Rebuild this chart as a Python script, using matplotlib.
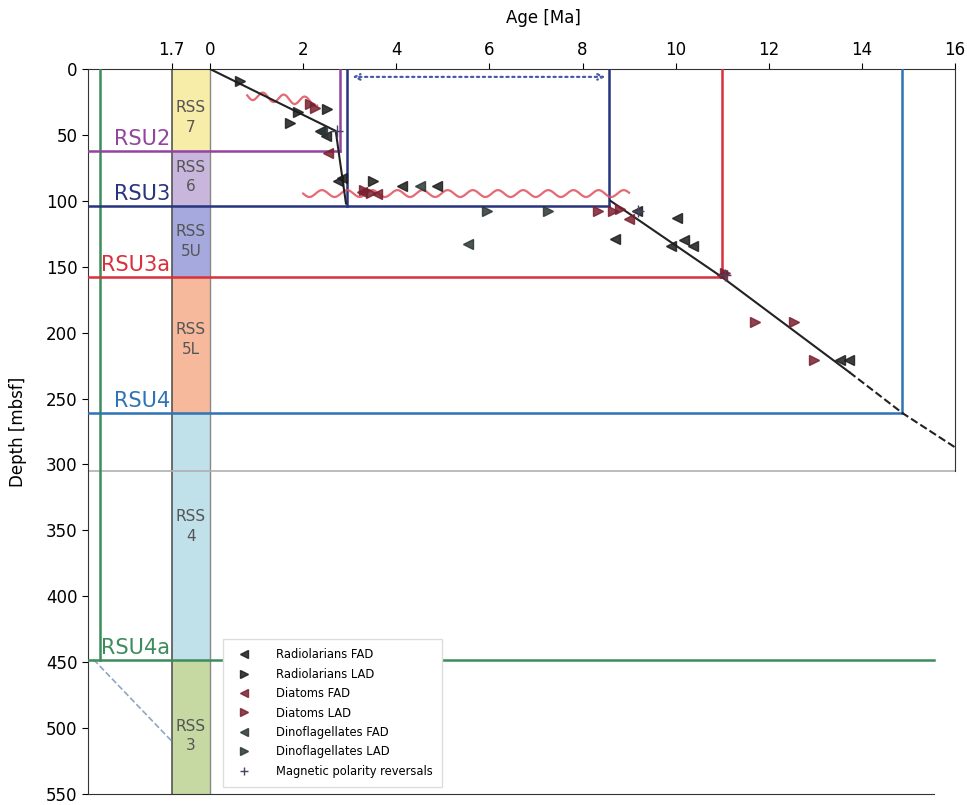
import numpy as np
import matplotlib.pyplot as plt

# Seismic surfaces (RSU): depth [mbsf] and age [Ma] of the older bound
rsu_names = ['RSU2', 'RSU3', 'RSU3a', 'RSU4', 'RSU4a']
rsu_depth = [62, 104, 158, 261, 448]
rsu_age = [2.79, 8.57, 11.0, 14.87, 15.55]
rsu_colors = ['#93449f', '#27347e', '#d8303c', '#2f73b5', '#3c8c5c']
rsu3_young_age = 2.95

# Seismic units (RSS)
rss_names = ['RSS\n7', 'RSS\n6', 'RSS\n5U', 'RSS\n5L', 'RSS\n4', 'RSS\n3']
rss_top = [0, 62, 104, 158, 261, 448]
rss_bot = [62, 104, 158, 261, 448, 550]
rss_label_depth = [37, 82, 131, 205, 347, 506]
rss_colors = ['#f7eca8', '#c8b6dc', '#a5a9de', '#f6b99b', '#c0e0ea', '#c6d9a2']

# Biostratigraphic datums
rad_fad_age = [2.36, 2.50, 2.83, 2.75, 4.12, 4.87, 8.70, 9.16, 9.91, 10.04, 10.19, 10.37, 13.52, 13.73]
rad_fad_depth = [47, 51, 83, 85, 88.6, 88.6, 129, 107.5, 134, 113, 130, 134, 221, 221]
rad_lad_age = [0.64, 1.72, 1.89, 2.51, 3.50]
rad_lad_depth = [9, 41, 33, 30, 85]
dia_fad_age = [2.53, 3.26, 3.58, 9.00, 11.00]
dia_fad_depth = [64, 93, 95, 113.6, 156]
dia_lad_age = [2.15, 2.25, 3.30, 3.45, 8.33, 8.65, 8.80, 11.05, 11.70, 12.55, 12.98]
dia_lad_depth = [26.5, 29.5, 92, 94, 107.5, 108, 106, 155, 191.6, 191.6, 221]
din_fad_age = [4.50, 5.54, 2.40]
din_fad_depth = [88.6, 132.6, 48]
din_lad_age = [5.94, 7.25]
din_lad_depth = [107.5, 107.5]
mag_age = [2.72, 9.20, 11.05]
mag_depth = [47, 108, 156]

# Age model
model_upper_age = [0, 2.70, 2.92]
model_upper_depth = [0, 47, 102]
model_lower_age = [8.6, 11.0, 13.73]
model_lower_depth = [100, 158, 230]
model_extrap_age = [13.73, 14.87, 16.0]
model_extrap_depth = [230, 261, 287]

# Hiatuses (start/end age, start/end depth)
hiatus_age = [(0.80, 2.30), (2.0, 9.0)]
hiatus_depth = [(20, 25), (94.5, 94.5)]

fig = plt.figure(figsize=(9.67, 8.05), dpi=100)
ax = fig.add_axes([0.091, 0.0137, 0.8966, 0.9006])
ax.set_xlim(-2.62, 16)
ax.set_ylim(550, 0)

# RSS column
for top, bot, c, name, yl in zip(rss_top, rss_bot, rss_colors, rss_names, rss_label_depth):
    ax.fill_betweenx([top, bot], -0.82, 0, color=c, lw=0, zorder=1)
    ax.text(-0.41, yl, name, ha='center', va='center', fontsize=11, color='#555555',
            linespacing=1.4, zorder=2)
ax.axvline(-0.82, color='#555555', lw=1.2, zorder=2)
ax.axvline(0, color='#888888', lw=1.0, zorder=2)

# left green line and dashed extrapolation
ax.plot([-2.36, -2.36], [0, rsu_depth[4]], color=rsu_colors[4], lw=1.8, zorder=3)
ax.plot([-2.5, -0.82], [448, 510], color='#8fa6c6', lw=1.2, ls='--', zorder=3)

# gray line at bottom of the time panel
ax.plot([-2.62, 16], [305, 305], color='#b0b0b0', lw=1.2, zorder=2)

# RSU lines
for name, d, a, c in zip(rsu_names, rsu_depth, rsu_age, rsu_colors):
    ax.plot([-2.62, a], [d, d], color=c, lw=1.8, zorder=3)
    if name != 'RSU4a':
        ax.plot([a, a], [0, d], color=c, lw=1.8, zorder=3)
    ax.text(-0.86, d - 1.5, name, ha='right', va='bottom', fontsize=15, color=c, zorder=4)
ax.plot([rsu3_young_age, rsu3_young_age], [0, rsu_depth[1]], color=rsu_colors[1], lw=1.8, zorder=3)
ax.annotate('', xy=(rsu3_young_age + 0.05, 6), xytext=(rsu_age[1] - 0.02, 6),
            arrowprops=dict(arrowstyle='<->', linestyle=':', color='#4a5aa8', lw=1.6))

# hiatus wavy lines
for (a0, a1), (d0, d1), per, amp in zip(hiatus_age, hiatus_depth, [0.45, 0.54], [3.2, 2.6]):
    t = np.linspace(0, 1, 400)
    a = a0 + (a1 - a0) * t
    d = d0 + (d1 - d0) * t + amp * np.sin(2 * np.pi * (a - a0) / per)
    ax.plot(a, d, color='#e0505c', lw=1.6, alpha=0.85, zorder=4)

# age model
ax.plot(model_upper_age, model_upper_depth, color='#222222', lw=1.5, zorder=5)
ax.plot(model_lower_age, model_lower_depth, color='#222222', lw=1.5, zorder=5)
ax.plot(model_extrap_age, model_extrap_depth, color='#222222', lw=1.5, ls='--', zorder=5)

# datums
ms = 6.5
ax.plot(rad_fad_age, rad_fad_depth, '<', color='#1c1c1c', ms=ms, ls='none', alpha=0.85,
        label='Radiolarians FAD', zorder=6)
ax.plot(rad_lad_age, rad_lad_depth, '>', color='#1c1c1c', ms=ms, ls='none', alpha=0.85,
        label='Radiolarians LAD', zorder=6)
ax.plot(dia_fad_age, dia_fad_depth, '<', color='#7a2030', ms=ms, ls='none', alpha=0.85,
        label='Diatoms FAD', zorder=6)
ax.plot(dia_lad_age, dia_lad_depth, '>', color='#7a2030', ms=ms, ls='none', alpha=0.85,
        label='Diatoms LAD', zorder=6)
ax.plot(din_fad_age, din_fad_depth, '<', color='#2c3636', ms=ms, ls='none', alpha=0.85,
        label='Dinoflagellates FAD', zorder=6)
ax.plot(din_lad_age, din_lad_depth, '>', color='#2c3636', ms=ms, ls='none', alpha=0.85,
        label='Dinoflagellates LAD', zorder=6)
ax.plot(mag_age, mag_depth, '+', color='#444466', ms=8, ls='none',
        label='Magnetic polarity reversals', zorder=6)

# axes styling
ax.xaxis.tick_top()
ax.xaxis.set_label_position('top')
ax.set_xticks([-0.82] + list(range(0, 17, 2)))
ax.set_xticklabels(['1.7'] + [str(v) for v in range(0, 17, 2)])
ax.set_yticks(range(0, 551, 50))
ax.tick_params(labelsize=12, length=4)
ax.set_xlabel('Age [Ma]', fontsize=12)
ax.xaxis.set_label_coords(0.525, 1.063)
ax.set_ylabel('Depth [mbsf]', fontsize=12)
ax.yaxis.set_label_coords(-0.07, 0.5)
ax.spines['right'].set_bounds(0, 305)
ax.spines['bottom'].set_bounds(-2.62, 15.55)
for s in ax.spines.values():
    s.set_color('#333333')

ax.legend(loc='lower left', bbox_to_anchor=(0.149, 0.002), fontsize=8.3, labelspacing=0.55,
          handletextpad=1.8, markerscale=0.8, framealpha=1, edgecolor='#dddddd',
          fancybox=False, borderpad=0.8)

fig.savefig('out.png', dpi=100)
